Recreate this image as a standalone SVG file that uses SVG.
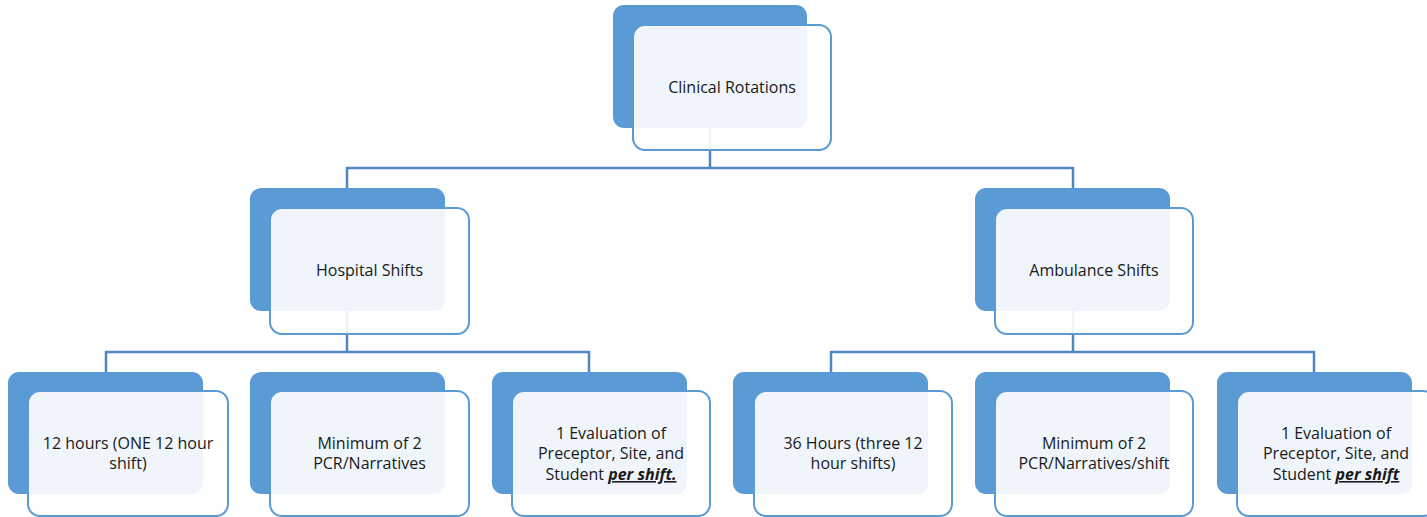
<svg xmlns="http://www.w3.org/2000/svg" width="1427" height="517" viewBox="0 0 1427 517">
<style>
.back{fill:#5b9bd5;}
.front{fill:#ffffff;fill-opacity:0.9;stroke:#5b9bd5;stroke-width:2;}
.conn{fill:none;stroke:#4f87c4;stroke-width:2.5;}
text{font-family:"Open Sans","Noto Sans",sans-serif;font-size:16px;fill:#1a1a1a;text-anchor:middle;}
.em{font-weight:bold;font-style:italic;text-decoration:underline;}
</style>
<rect width="1427" height="517" fill="#ffffff"/>
<g id="connectors">
<path class="conn" d="M710,128 V168 M347,188 V168 H1073 V188"/>
<path class="conn" d="M347,311 V352 M106,372 V352 H589 V372"/>
<path class="conn" d="M1073,311 V352 M831,372 V352 H1314 V372"/>
</g>
<g id="clinical-rotations">
<rect class="back" x="613" y="5" width="194" height="123" rx="11"/>
<rect class="front" x="633" y="25" width="198" height="125" rx="12"/>
<text x="732" y="93">Clinical Rotations</text>
</g>
<g id="hospital-shifts">
<rect class="back" x="250" y="188" width="195" height="123" rx="11"/>
<rect class="front" x="270" y="208" width="199" height="126" rx="12"/>
<text x="369.5" y="276">Hospital Shifts</text>
</g>
<g id="ambulance-shifts">
<rect class="back" x="975" y="188" width="195" height="123" rx="11"/>
<rect class="front" x="995" y="208" width="198" height="126" rx="12"/>
<text x="1094" y="276">Ambulance Shifts</text>
</g>
<g id="leaf-12-hours">
<rect class="back" x="8" y="372" width="195" height="122" rx="11"/>
<rect class="front" x="28" y="391" width="200" height="125" rx="12"/>
<text x="128" y="449">12 hours (ONE 12 hour</text>
<text x="128" y="469">shift)</text>
</g>
<g id="leaf-hospital-pcr">
<rect class="back" x="250" y="372" width="195" height="122" rx="11"/>
<rect class="front" x="270" y="391" width="199" height="125" rx="12"/>
<text x="369.5" y="449">Minimum of 2</text>
<text x="369.5" y="469">PCR/Narratives</text>
</g>
<g id="leaf-hospital-eval">
<rect class="back" x="492" y="372" width="195" height="122" rx="11"/>
<rect class="front" x="512" y="391" width="198" height="125" rx="12"/>
<text x="611" y="439">1 Evaluation of</text>
<text x="611" y="459">Preceptor, Site, and</text>
<text x="611" y="480">Student <tspan class="em">per shift.</tspan></text>
</g>
<g id="leaf-36-hours">
<rect class="back" x="733" y="372" width="195" height="122" rx="11"/>
<rect class="front" x="754" y="391" width="198" height="125" rx="12"/>
<text x="853" y="449">36 Hours (three 12</text>
<text x="853" y="469">hour shifts)</text>
</g>
<g id="leaf-ambulance-pcr">
<rect class="back" x="975" y="372" width="195" height="122" rx="11"/>
<rect class="front" x="995" y="391" width="198" height="125" rx="12"/>
<text x="1094" y="449">Minimum of 2</text>
<text x="1094" y="469">PCR/Narratives/shift</text>
</g>
<g id="leaf-ambulance-eval">
<rect class="back" x="1217" y="372" width="195" height="122" rx="11"/>
<rect class="front" x="1237" y="391" width="198" height="125" rx="12"/>
<text x="1336" y="439">1 Evaluation of</text>
<text x="1336" y="459">Preceptor, Site, and</text>
<text x="1336" y="480">Student <tspan class="em">per shift</tspan></text>
</g>
</svg>
